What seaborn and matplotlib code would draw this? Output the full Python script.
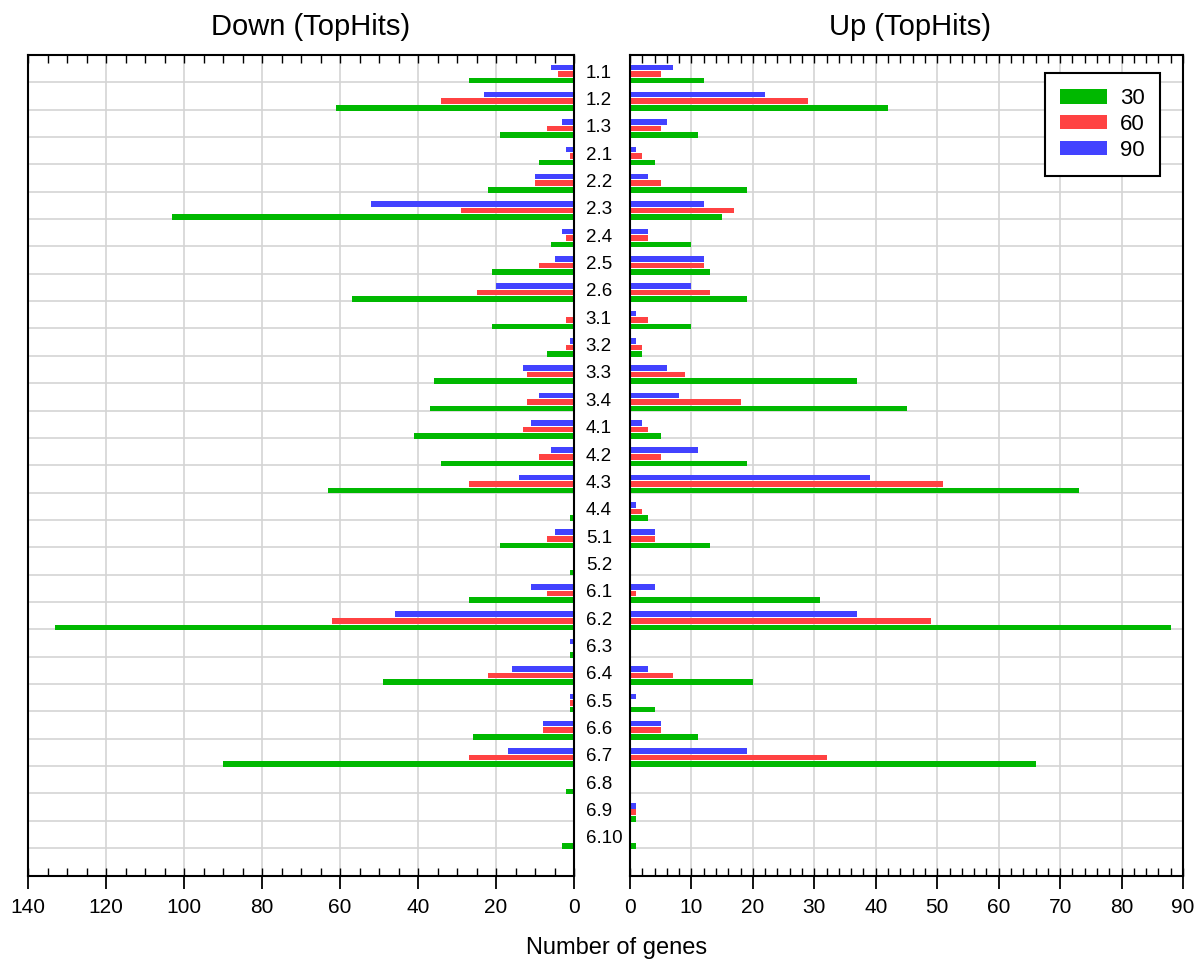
import numpy as np
import pandas as pd
import matplotlib
matplotlib.use("Agg")
import matplotlib.pyplot as plt
import seaborn as sns
from matplotlib.ticker import MultipleLocator

sns.set_theme(style="white")
plt.rcParams["font.family"] = ["Liberation Sans", "DejaVu Sans"]

categories = ["1.1", "1.2", "1.3", "2.1", "2.2", "2.3", "2.4", "2.5", "2.6",
              "3.1", "3.2", "3.3", "3.4", "4.1", "4.2", "4.3", "4.4", "5.1",
              "5.2", "6.1", "6.2", "6.3", "6.4", "6.5", "6.6", "6.7", "6.8",
              "6.9", "6.10"]

down_30 = [27, 61, 19, 9, 22, 103, 6, 21, 57, 21, 7, 36, 37, 41, 34, 63, 1, 19,
           1, 27, 133, 1, 49, 1, 26, 90, 2, 0, 3]
down_60 = [4, 34, 7, 1, 10, 29, 2, 9, 25, 2, 2, 12, 12, 13, 9, 27, 0, 7,
           0, 7, 62, 0, 22, 1, 8, 27, 0, 0, 0]
down_90 = [6, 23, 3, 2, 10, 52, 3, 5, 20, 0, 1, 13, 9, 11, 6, 14, 0, 5,
           0, 11, 46, 1, 16, 1, 8, 17, 0, 0, 0]

up_30 = [12, 42, 11, 4, 19, 15, 10, 13, 19, 10, 2, 37, 45, 5, 19, 73, 3, 13,
         0, 31, 88, 0, 20, 4, 11, 66, 0, 1, 1]
up_60 = [5, 29, 5, 2, 5, 17, 3, 12, 13, 3, 2, 9, 18, 3, 5, 51, 2, 4,
         0, 1, 49, 0, 7, 0, 5, 32, 0, 1, 0]
up_90 = [7, 22, 6, 1, 3, 12, 3, 12, 10, 1, 1, 6, 8, 2, 11, 39, 1, 4,
         0, 4, 37, 0, 3, 1, 5, 19, 0, 1, 0]

times = ["30", "60", "90"]
palette = {"30": "#00B800", "60": "#FF4242", "90": "#4242FF"}


def to_long(v30, v60, v90):
    rows = []
    for t, vals in zip(times, (v30, v60, v90)):
        for c, v in zip(categories, vals):
            rows.append({"category": c, "time": t, "value": v})
    return pd.DataFrame(rows)


df_down = to_long(down_30, down_60, down_90)
df_up = to_long(up_30, up_60, up_90)

W, H = 1196, 963
fig = plt.figure(figsize=(W / 100, H / 100), dpi=100)
fig.patch.set_facecolor("white")
axL = fig.add_axes([28 / W, 87 / H, 546 / W, 821 / H])
axR = fig.add_axes([630 / W, 87 / H, 553 / W, 821 / H])

n = len(categories)
for ax, df, show_leg in ((axL, df_down, False), (axR, df_up, True)):
    sns.barplot(data=df, x="value", y="category", hue="time",
                hue_order=["90", "60", "30"], order=categories,
                palette=palette, orient="y", width=0.72, gap=0.15,
                saturation=1, linewidth=0, errorbar=None,
                ax=ax, legend=show_leg)
    ax.set_facecolor("white")
    ax.set_xlabel("")
    ax.set_ylabel("")
    ax.set_ylim(29.33, -0.69)
    ax.set_yticks(np.arange(n) + 0.31, minor=True)
    ax.grid(axis="y", which="minor", color="#d4d4d4", lw=1.2)
    ax.grid(axis="x", which="major", color="#d4d4d4", lw=1.2)
    ax.grid(axis="y", which="major", visible=False)
    ax.set_axisbelow(True)
    ax.xaxis.remove_overlapping_locs = False
    ax.tick_params(axis="x", which="major", direction="out", length=9,
                   width=1.3, bottom=True, top=False, labelsize=15,
                   pad=7, colors="black")
    ax.tick_params(axis="x", which="minor", direction="in", length=6,
                   width=1.0, bottom=True, top=True, colors="black")
    ax.tick_params(axis="y", which="both", length=0)
    for s in ax.spines.values():
        s.set_visible(True)
        s.set_color("black")
        s.set_linewidth(1.5)

# Left panel: reversed axis, category labels between the panels
axL.set_xlim(140, 0)
axL.xaxis.set_major_locator(MultipleLocator(20))
axL.xaxis.set_minor_locator(MultipleLocator(5))
axL.yaxis.tick_right()
axL.set_yticks(np.arange(n) - 0.1, labels=categories)
axL.tick_params(axis="y", which="major", length=0, pad=8.5,
                labelsize=13.5, colors="black")

# Right panel
axR.set_xlim(0, 90)
axR.xaxis.set_major_locator(MultipleLocator(10))
axR.xaxis.set_minor_locator(MultipleLocator(2))
axR.set_yticks([])
axR.set_yticks(np.arange(n) + 0.31, minor=True)

handles, labels = axR.get_legend_handles_labels()
lut = dict(zip(labels, handles))
leg = axR.legend([lut[t] for t in times], times, loc="upper right",
                 bbox_to_anchor=(1160 / W, 1 - 73 / H),
                 bbox_transform=fig.transFigure, borderaxespad=0,
                 fontsize=16, handlelength=2.1, handleheight=0.63,
                 handletextpad=0.6, labelspacing=0.22, borderpad=0.68,
                 fancybox=False, framealpha=1, edgecolor="black")
leg.get_frame().set_linewidth(1.5)
for t in leg.get_texts():
    t.set_color("black")

fig.text(311 / W, 1 - 27 / H, "Down (TopHits)", ha="center", va="center",
         fontsize=21, color="black")
fig.text(910 / W, 1 - 27 / H, "Up (TopHits)", ha="center", va="center",
         fontsize=21, color="black")
fig.text(617 / W, 1 - 948 / H, "Number of genes", ha="center", va="center",
         fontsize=17, color="black")

fig.savefig("out.png", dpi=100, facecolor="white")
